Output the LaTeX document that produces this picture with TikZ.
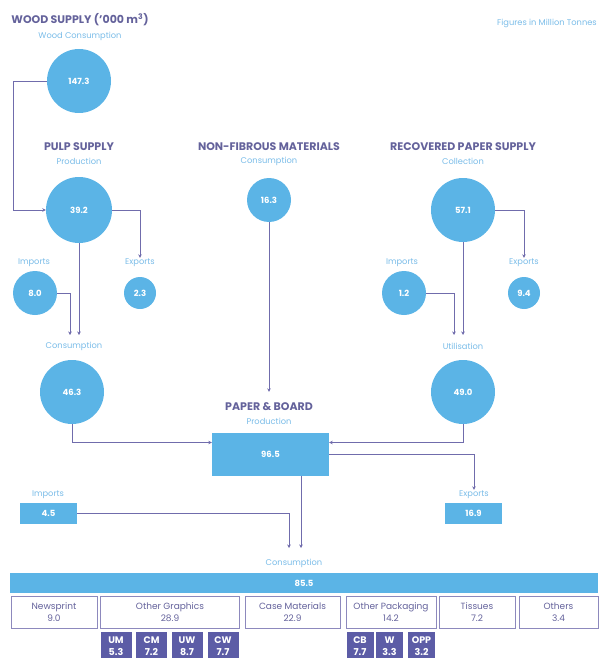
\documentclass[tikz,border=0pt]{standalone}
\usepackage{fontspec}
\setmainfont{Poppins}
\usetikzlibrary{arrows.meta}

\definecolor{ecblue}{RGB}{91,180,230}
\definecolor{ecline}{RGB}{112,108,172}
\definecolor{ecgrey}{RGB}{100,98,155}
\definecolor{eclight}{RGB}{122,188,232}
\definecolor{ecdark}{RGB}{92,92,166}

\begin{document}
\begin{tikzpicture}[x=1pt, y=-1pt,
    flow/.style={draw=ecline, line width=0.9pt, -{Stealth[length=3.5pt,width=3.5pt]}},
    bubble/.style={circle, fill=ecblue, text=white, inner sep=0pt, font=\fontsize{8.5}{9}\selectfont\bfseries},
    heading/.style={text=ecgrey, inner sep=1pt, font=\fontsize{11}{12}\selectfont\bfseries},
    subheading/.style={text=eclight, inner sep=1pt, font=\fontsize{8.3}{9}\selectfont},
    box/.style={fill=ecblue, text=white, inner sep=0pt, font=\fontsize{8.5}{9}\selectfont\bfseries},
    catbox/.style={draw=ecline!80, line width=0.8pt, text=ecgrey, align=center, inner sep=0pt,
        minimum height=32, font=\fontsize{9}{12}\selectfont},
    partbox/.style={fill=ecdark, text=white, align=center, inner sep=0pt,
        minimum height=28, font=\fontsize{9.5}{11.5}\selectfont\bfseries}]
    \useasboundingbox (0,0) rectangle (601,658);

    % headings
    \node[heading] (woodhd) at (80,20) {WOOD SUPPLY ('000 m\textsuperscript{3})};
    \node[subheading] (woodsub) at (80,36) {Wood Consumption};
    \node[subheading, anchor=east] (note) at (598,23) {Figures in Million Tonnes};
    \node[heading] (pulphd) at (79,147) {PULP SUPPLY};
    \node[subheading] (pulpsub) at (79,161) {Production};
    \node[heading] (nfhd) at (269,147) {NON-FIBROUS MATERIALS};
    \node[subheading] (nfsub) at (269,161) {Consumption};
    \node[heading] (rechd) at (463,147) {RECOVERED PAPER SUPPLY};
    \node[subheading] (recsub) at (463,161) {Collection};
    \node[heading] (pbhd) at (269,407) {PAPER \& BOARD};
    \node[subheading] (pbsub) at (269,421) {Production};

    % small labels
    \node[subheading] (pimplab) at (34,263) {Imports};
    \node[subheading] (pexplab) at (140,263) {Exports};
    \node[subheading] (pconlab) at (74,346) {Consumption};
    \node[subheading] (rimplab) at (402,263) {Imports};
    \node[subheading] (rexplab) at (524,263) {Exports};
    \node[subheading] (rutillab) at (463,346) {Utilisation};
    \node[subheading] (bimplab) at (48,495) {Imports};
    \node[subheading] (bexplab) at (474,495) {Exports};
    \node[subheading] (bconlab) at (294,563) {Consumption};

    % circles
    \node[bubble, minimum size=64] (wood) at (79,81) {147.3};
    \node[bubble, minimum size=66] (pulp) at (79,210) {39.2};
    \node[bubble, minimum size=44] (pimp) at (35,293) {8.0};
    \node[bubble, minimum size=32] (pexp) at (140,293) {2.3};
    \node[bubble, minimum size=64] (pcon) at (72,392) {46.3};
    \node[bubble, minimum size=44] (nf) at (269,200) {16.3};
    \node[bubble, minimum size=64] (rec) at (463,210) {57.1};
    \node[bubble, minimum size=44] (rimp) at (404,293) {1.2};
    \node[bubble, minimum size=32] (rexp) at (524,293) {9.4};
    \node[bubble, minimum size=64] (rutil) at (463,392) {49.0};

    % boxes
    \node[box, minimum width=117, minimum height=43] (pb) at (270.5,454.5) {96.5};
    \node[box, minimum width=57, minimum height=21] (bimp) at (48.5,513.5) {4.5};
    \node[box, minimum width=57, minimum height=21] (bexp) at (473.5,513.5) {16.9};
    \node[box, minimum width=588, minimum height=20] (cons) at (304,583) {85.5};

    % end uses
    \node[catbox, minimum width=86] (news) at (54,612) {Newsprint\\9.0};
    \node[catbox, minimum width=139] (graph) at (170,612) {Other Graphics\\28.9};
    \node[catbox, minimum width=95] (casem) at (292.5,612) {Case Materials\\22.9};
    \node[catbox, minimum width=90] (pack) at (391,612) {Other Packaging\\14.2};
    \node[catbox, minimum width=76] (tiss) at (477,612) {Tissues\\7.2};
    \node[catbox, minimum width=79] (other) at (558.5,612) {Others\\3.4};

    \foreach \n/\v/\x in {UM/5.3/116, CM/7.2/151.5, UW/8.7/187, CW/7.7/223}
        \node[partbox, minimum width=31] (\n) at (\x,646) {\n\\\v};
    \foreach \n/\v/\x in {CB/7.7/360, W/3.3/389.5, OPP/3.2/421.5}
        \node[partbox, minimum width=27] (\n) at (\x,646) {\n\\\v};

    % free ends of the arrows
    \coordinate (pin) at (70,335);
    \coordinate (rin) at (454,335);
    \coordinate (bin) at (289,548);
    \coordinate (bout) at (301,548);

    % pulp flows
    \draw[flow] (wood.west) -- ++(-33,0) |- (pulp.west);
    \draw[flow] (pulp.east) -| (pexplab.north);
    \draw[flow] (pimp.east) -| (pin);
    \draw[flow] (pulp.south) -- (pulp.south |- pin);
    \draw[flow] (pcon.south) |- ([yshift=12pt]pb.west);

    % non-fibrous
    \draw[flow] (nf.south) -- ([yshift=10pt]pbhd.north);

    % recovered paper flows
    \draw[flow] (rec.east) -| (rexplab.north);
    \draw[flow] (rimp.east) -| (rin);
    \draw[flow] (rec.south) -- (rec.south |- rin);
    \draw[flow] (rutil.south) |- ([yshift=12pt]pb.east);

    % paper and board flows
    \draw[flow] (pb.east) -| (bexplab.north);
    \draw[flow] (bimp.east) -| (bin);
    \draw[flow] (pb.south -| bout) -- (bout);
\end{tikzpicture}
\end{document}
